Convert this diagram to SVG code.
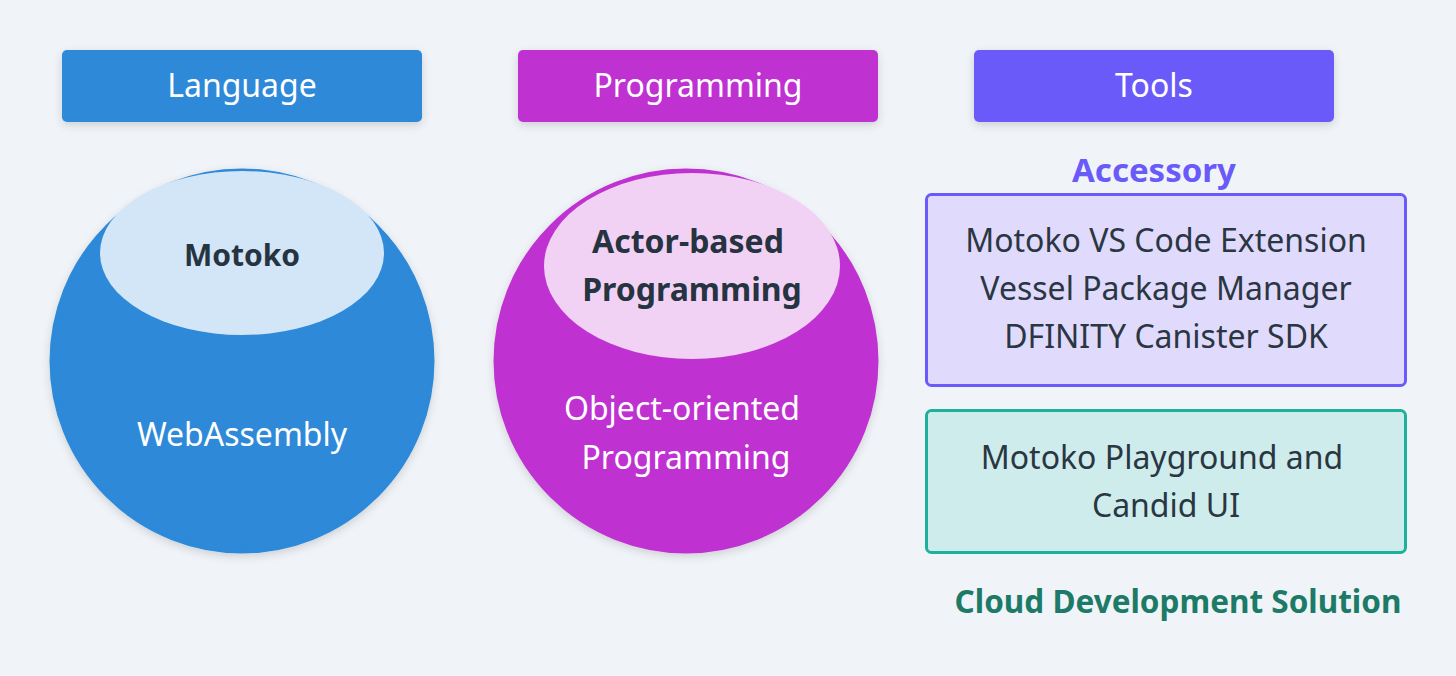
<svg xmlns="http://www.w3.org/2000/svg" width="1456" height="676" viewBox="0 0 1456 676">
<style>
text{font-family:"Noto Sans","Liberation Sans",sans-serif;text-anchor:middle}
.hdr{font-size:32px;fill:#ffffff}
.bold{font-weight:bold;font-size:32px;fill:#263340}
.white{font-size:32px;fill:#ffffff}
.item{font-size:32px;fill:#2a3642}
</style>
<defs>
<filter id="sh" x="-20%" y="-20%" width="140%" height="140%">
<feDropShadow dx="0" dy="3" stdDeviation="4" flood-color="#000000" flood-opacity="0.15"/>
</filter>
</defs>
<rect width="1456" height="676" fill="#f0f4f8"/>
<g id="hdr-language">
<rect x="62" y="50" width="360" height="72" rx="5" fill="#2d89d9" filter="url(#sh)"/>
<text class="hdr" x="242" y="97">Language</text>
</g>
<g id="hdr-programming">
<rect x="518" y="50" width="360" height="72" rx="5" fill="#bf33d1" filter="url(#sh)"/>
<text class="hdr" x="698" y="97">Programming</text>
</g>
<g id="hdr-tools">
<rect x="974" y="50" width="360" height="72" rx="5" fill="#6a5af9" filter="url(#sh)"/>
<text class="hdr" x="1154" y="97">Tools</text>
</g>
<g id="lang-circle">
<circle cx="242" cy="361" r="191" fill="#2d89d9" stroke="#2d89d9" stroke-width="3" filter="url(#sh)"/>
<ellipse cx="242" cy="253" rx="142" ry="82" fill="#d3e6f7"/>
<text class="bold" x="242" y="266" style="font-size:30px">Motoko</text>
<text class="white" x="242" y="446">WebAssembly</text>
</g>
<g id="prog-circle">
<circle cx="686" cy="361" r="191" fill="#bf33d1" stroke="#bf33d1" stroke-width="3" filter="url(#sh)"/>
<ellipse cx="692" cy="266" rx="148" ry="93" fill="#f2d2f4"/>
<text class="bold" x="688" y="253">Actor-based</text>
<text class="bold" x="692" y="301">Programming</text>
<text class="white" x="682" y="420">Object-oriented</text>
<text class="white" x="686" y="469">Programming</text>
</g>
<g id="accessory">
<text x="1154" y="182" font-size="33" font-weight="bold" fill="#6a5af9">Accessory</text>
<rect x="926.500" y="194.500" width="479" height="191" rx="5" fill="#e0dafc" stroke="#6a5af9" stroke-width="3"/>
<text class="item" x="1166" y="252">Motoko VS Code Extension</text>
<text class="item" x="1166" y="300">Vessel Package Manager</text>
<text class="item" x="1166" y="348">DFINITY Canister SDK</text>
</g>
<g id="cloud">
<rect x="926.500" y="410.500" width="479" height="142" rx="5" fill="#ceeceb" stroke="#1fb09b" stroke-width="3"/>
<text class="item" x="1162" y="469">Motoko Playground and</text>
<text class="item" x="1166" y="517">Candid UI</text>
<text x="1178" y="613" font-size="31.500" font-weight="bold" fill="#1d7a66">Cloud Development Solution</text>
</g>
<g id="connectors"></g>
</svg>
